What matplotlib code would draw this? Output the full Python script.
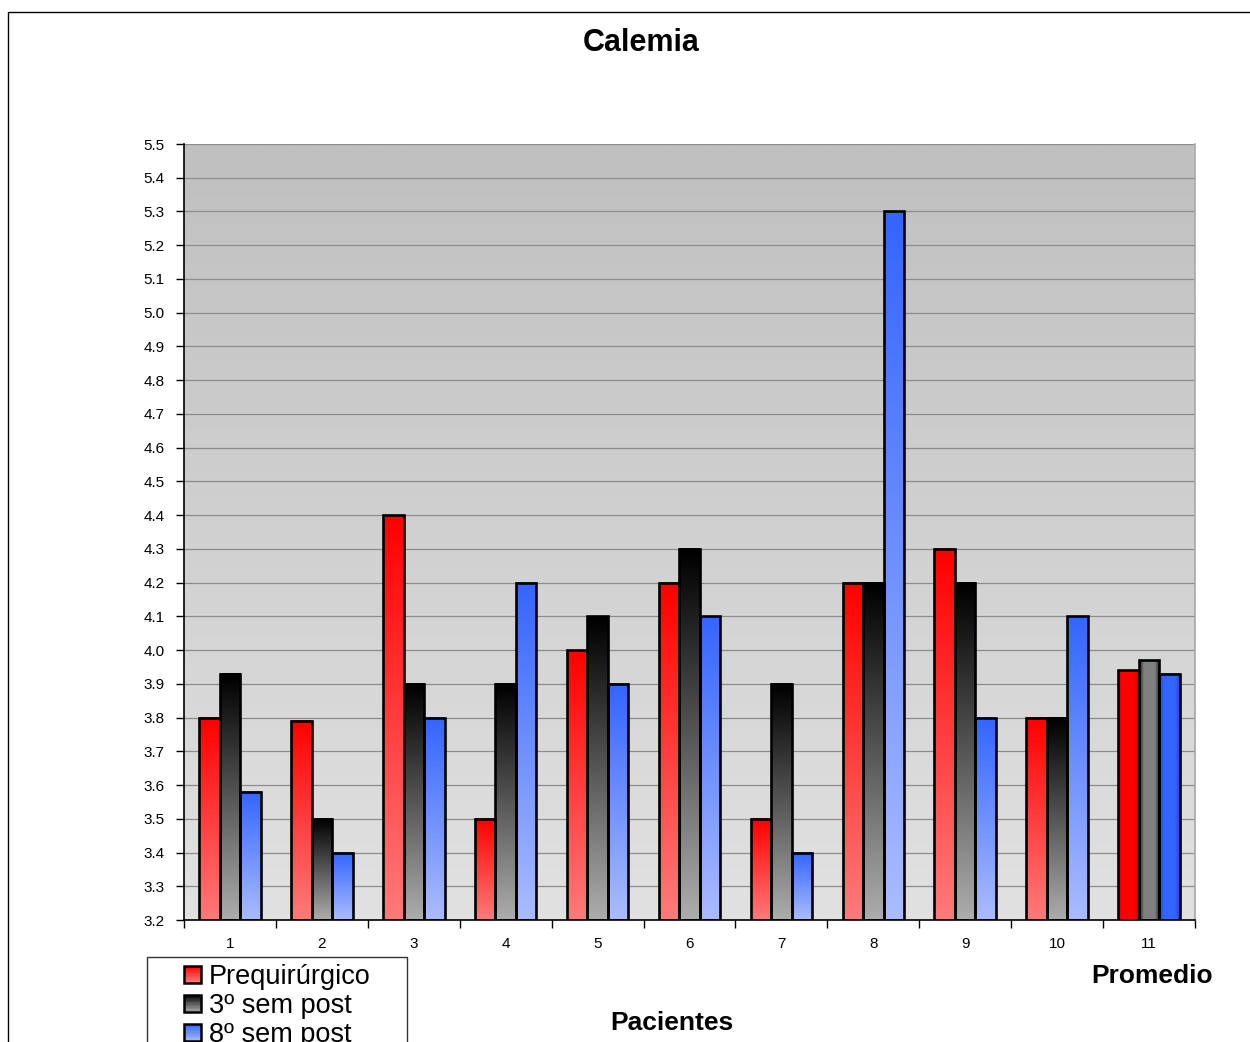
import numpy as np
import matplotlib
matplotlib.use("Agg")
import matplotlib.pyplot as plt
from matplotlib.patches import Rectangle
from matplotlib.legend_handler import HandlerBase

plt.rcParams['font.family'] = ['Liberation Sans', 'DejaVu Sans']

# data
pacientes = ["1", "2", "3", "4", "5", "6", "7", "8", "9", "10", "11"]
prequirurgico = [3.8, 3.79, 4.4, 3.5, 4.0, 4.2, 3.5, 4.2, 4.3, 3.8, 3.94]
sem3_post = [3.93, 3.5, 3.9, 3.9, 4.1, 4.3, 3.9, 4.2, 4.2, 3.8, 3.97]
sem8_post = [3.58, 3.4, 3.8, 4.2, 3.9, 4.1, 3.4, 5.3, 3.8, 4.1, 3.93]
labels = ["Prequirúrgico", "3º sem post", "8º sem post"]
y_ticks = [3.2, 3.3, 3.4, 3.5, 3.6, 3.7, 3.8, 3.9, 4.0, 4.1, 4.2, 4.3, 4.4, 4.5,
           4.6, 4.7, 4.8, 4.9, 5.0, 5.1, 5.2, 5.3, 5.4, 5.5]

# gradient colours (top, bottom) for each series
grad_colors = [((255, 0, 0), (255, 122, 122)),
               ((0, 0, 0), (172, 172, 172)),
               ((51, 102, 255), (170, 187, 255))]
# horizontal gradients (edge, centre) used for the average group
avg_colors = [((215, 0, 0), (255, 0, 0)),
              ((35, 35, 35), (128, 128, 128)),
              ((30, 75, 215), (51, 102, 255))]


def vgrad(top, bottom, n=64):
    t = np.linspace(0, 1, n)[:, None]
    c = (np.array(top)[None, :] * (1 - t) + np.array(bottom)[None, :] * t) / 255.0
    return np.clip(c[:, None, :], 0, 1)


def hgrad(edge, centre, n=32):
    t = 1 - np.abs(np.linspace(-1, 1, n))
    t = np.clip(t * 2.2, 0, 1)[:, None]
    c = (np.array(edge)[None, :] * (1 - t) + np.array(centre)[None, :] * t) / 255.0
    return np.clip(c[None, :, :], 0, 1)


class GradHandler(HandlerBase):
    def __init__(self, top, bottom):
        super().__init__()
        self.top = top
        self.bottom = bottom

    def create_artists(self, legend, orig_handle, xdescent, ydescent, width, height, fontsize, trans):
        side = 17 * 72.0 / 100
        x0 = -xdescent + width - side
        y0 = -ydescent + (height - side) / 2
        arts = []
        n = 12
        for i in range(n):
            t = (i + 0.5) / n
            c = [min(1.0, (self.bottom[k] * (1 - t) + self.top[k] * t) / 255.0) for k in range(3)]
            arts.append(Rectangle((x0, y0 + side * i / n), side, side / n + 0.05,
                                  facecolor=c, edgecolor='none', transform=trans))
        arts.append(Rectangle((x0, y0), side, side, fill=False, edgecolor='black',
                              linewidth=1.8, transform=trans))
        return arts


fig = plt.figure(figsize=(12.5, 10.42), dpi=100)
ax = fig.add_axes([184 / 1250, 1 - 920 / 1042, (1195 - 184) / 1250, (920 - 144) / 1042])

x = np.arange(1, len(pacientes) + 1)
w = 0.223
xlim = (0.5, len(pacientes) + 0.5)
ylim = (3.2, 5.5)

# plot area background
ax.imshow(vgrad((192, 192, 192), (225, 225, 225)), extent=(xlim[0], xlim[1], ylim[0], ylim[1]),
          aspect='auto', zorder=0, interpolation='bilinear')
ax.set_facecolor('none')

series = [prequirurgico, sem3_post, sem8_post]
handles = []
for s, vals in enumerate(series):
    offs = (s - 1) * w
    bars = ax.bar(x + offs, np.array(vals) - ylim[0], w, bottom=ylim[0], facecolor='none',
                  edgecolor='black', linewidth=1.9, zorder=3)
    for i, b in enumerate(bars):
        bx, by = b.get_x(), b.get_y()
        bw, bh = b.get_width(), b.get_height()
        if i == len(bars) - 1:
            img = hgrad(*avg_colors[s])
        else:
            img = vgrad(*grad_colors[s])
        ax.imshow(img, extent=(bx, bx + bw, by, by + bh), aspect='auto', zorder=2,
                  interpolation='bilinear')
    handles.append(Rectangle((0, 0), 1, 1))

ax.set_xlim(xlim)
ax.set_ylim(ylim)

ax.set_yticks(y_ticks)
ax.set_yticklabels(["%.1f" % v for v in y_ticks], fontsize=11)
ax.yaxis.grid(True, color='#8c8c8c', linewidth=0.9, zorder=1)
ax.set_axisbelow(True)

ax.set_xticks(np.arange(0.5, len(pacientes) + 1, 1))
ax.set_xticklabels([])
ax.set_xticks(x, minor=True)
ax.set_xticklabels(pacientes, minor=True, fontsize=11)
ax.tick_params(axis='x', which='minor', length=0, pad=12)
ax.tick_params(axis='x', which='major', length=6, width=1)
ax.tick_params(axis='y', length=6, width=1, pad=8)

ax.spines['top'].set_visible(False)
ax.spines['right'].set_color('#a8a8a8')
ax.spines['right'].set_linewidth(1.2)
ax.spines['left'].set_linewidth(1.2)
ax.spines['bottom'].set_linewidth(1.2)

fig.text(641 / 1250, 1 - 43 / 1042, "Calemia", fontsize=22, fontweight='bold',
         ha='center', va='center')
fig.text(1152 / 1250, 1 - 976 / 1042, "Promedio", fontsize=19, fontweight='bold',
         ha='center', va='center')
fig.text(672 / 1250, 1 - 1023 / 1042, "Pacientes", fontsize=19, fontweight='bold',
         ha='center', va='center')

leg = fig.legend(handles, labels, loc='upper left',
                 bbox_to_anchor=(147 / 1250, 1 - 957 / 1042, 260 / 1250, 0),
                 bbox_transform=fig.transFigure, mode='expand',
                 fontsize=19.5, frameon=True, fancybox=False, shadow=False,
                 borderpad=0.25, handlelength=1.74, handleheight=0.6,
                 handletextpad=0.3, labelspacing=0.12, borderaxespad=0,
                 handler_map={handles[k]: GradHandler(*grad_colors[k]) for k in range(3)})
leg.get_frame().set_edgecolor('black')
leg.get_frame().set_linewidth(1.0)

# outer chart border
fig.patches.append(Rectangle((8 / 1250, -0.1), 1.2, 1.1 - 12 / 1042, transform=fig.transFigure,
                             fill=False, edgecolor='black', linewidth=1.0))

fig.savefig("out.png", dpi=100)
